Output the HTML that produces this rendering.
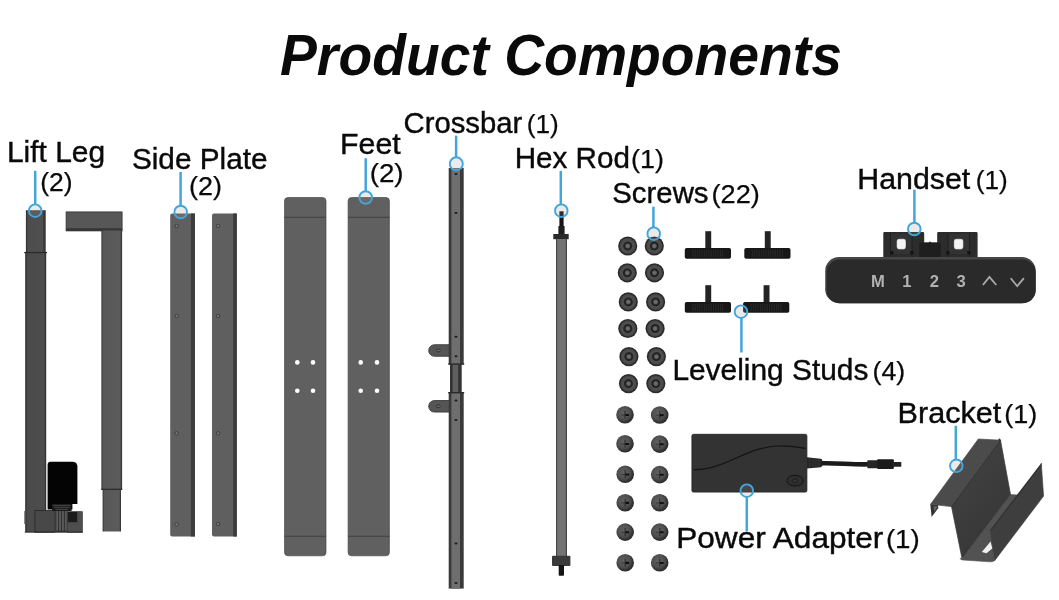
<!DOCTYPE html>
<html>
<head>
<meta charset="utf-8">
<title>Product Components</title>
<style>
  html, body { margin: 0; padding: 0; background: #ffffff; }
  body { width: 1059px; height: 600px; overflow: hidden; font-family: "Liberation Sans", sans-serif; }
  svg { display: block; will-change: transform; }
  text { font-family: "Liberation Sans", sans-serif; fill: #0a0a0a; }
  .lbl { font-size: 29px; stroke: #0a0a0a; stroke-width: 0.4px; }
  .num { font-size: 26.6px; stroke: #0a0a0a; stroke-width: 0.25px; }
  .ptr { stroke: #44a5da; stroke-width: 2.5; fill: none; }
  .ring { stroke: #44a5da; stroke-width: 1.9; fill: rgba(150,150,150,0.20); }
</style>
</head>
<body>
<svg width="1059" height="600" viewBox="0 0 1059 600">
  <defs>
    <radialGradient id="gSock" cx="50%" cy="50%" r="50%">
      <stop offset="0" stop-color="#727272"/>
      <stop offset="0.2" stop-color="#5e5e5e"/>
      <stop offset="0.3" stop-color="#202020"/>
      <stop offset="0.42" stop-color="#262626"/>
      <stop offset="0.52" stop-color="#505050"/>
      <stop offset="0.76" stop-color="#484848"/>
      <stop offset="0.9" stop-color="#262626"/>
      <stop offset="1" stop-color="#3c3c3c"/>
    </radialGradient>
    <radialGradient id="gPh" cx="42%" cy="40%" r="60%">
      <stop offset="0" stop-color="#626262"/>
      <stop offset="0.6" stop-color="#4e4e4e"/>
      <stop offset="0.86" stop-color="#343434"/>
      <stop offset="1" stop-color="#2a2a2a"/>
    </radialGradient>
    <linearGradient id="gLegU" x1="0" x2="1" y1="0" y2="0">
      <stop offset="0" stop-color="#2c2c2c"/><stop offset="0.1" stop-color="#4d4d4d"/><stop offset="0.84" stop-color="#4f4f4f"/><stop offset="0.9" stop-color="#3a3a3a"/><stop offset="1" stop-color="#333"/>
    </linearGradient>
    <linearGradient id="gLegL" x1="0" x2="1" y1="0" y2="0">
      <stop offset="0" stop-color="#262626"/><stop offset="0.1" stop-color="#4a4a4a"/><stop offset="0.9" stop-color="#4d4d4d"/><stop offset="1" stop-color="#282828"/>
    </linearGradient>
    <linearGradient id="gWall" x1="0.2" y1="0" x2="0.8" y2="1">
      <stop offset="0" stop-color="#424242"/><stop offset="1" stop-color="#353535"/>
    </linearGradient>
    <linearGradient id="gLeg2" x1="0" x2="1" y1="0" y2="0">
      <stop offset="0" stop-color="#2e2e2e"/><stop offset="0.09" stop-color="#585858"/><stop offset="0.9" stop-color="#5b5b5b"/><stop offset="1" stop-color="#2e2e2e"/>
    </linearGradient>
    <g id="sock">
      <circle r="9.6" fill="url(#gSock)"/>
    </g>
    <g id="ph">
      <circle r="8.8" fill="url(#gPh)"/>
      <path d="M0 -4V3.800" stroke="#242424" stroke-width="1.1" fill="none" opacity="0.85"/>
      <path d="M-3.800 0.200H0" stroke="#2a2a2a" stroke-width="1" fill="none" opacity="0.7"/>
      <rect x="0.2" y="-0.900" width="3.800" height="2.100" rx="0.6" fill="#101010"/>
    </g>
    <g id="stud">
      <rect x="20.5" y="0" width="5.900" height="17.500" fill="#232323"/>
      <rect x="0" y="16.800" width="46.200" height="10.800" rx="1.800" fill="#171717"/>
      <path d="M8 18.500v7.500M10.300 18.500v7.500M12.600 18.500v7.500M14.900 18.500v7.500M17.200 18.500v7.500M19.500 18.500v7.500M21.800 18.500v7.500M24.100 18.500v7.500M26.400 18.500v7.500M28.700 18.500v7.500M31 18.500v7.500M33.300 18.500v7.500M35.600 18.500v7.500M37.900 18.500v7.500" stroke="#303030" stroke-width="0.800" fill="none"/>
    </g>
  </defs>

  <rect x="0" y="0" width="1059" height="600" fill="#ffffff"/>

  <!-- TITLE -->
  <text id="title" x="280.0" y="74.7" font-size="57.5" font-weight="bold" font-style="italic" textLength="562.0" lengthAdjust="spacingAndGlyphs" fill="#0a0a0a">Product Components</text>

  <!-- LIFT LEG 1 -->
  <g id="leg1">
    <rect x="25.900" y="210.200" width="19.800" height="42.800" fill="url(#gLegU)"/>
    <rect x="25.200" y="252.500" width="21" height="279.700" fill="url(#gLegL)"/>
    <rect x="24.200" y="251.900" width="22.800" height="1.300" fill="#2a2a2a"/>
    <rect x="24.300" y="511" width="1.300" height="13" fill="#555"/>
    <rect x="34.900" y="510.400" width="19.500" height="21.800" fill="#484848" stroke="#262626" stroke-width="0.800"/>
    <rect x="54.400" y="511" width="13.100" height="21.200" fill="#3a3a3a"/>
    <rect x="56.300" y="511" width="10.400" height="19.500" fill="#5a5a5a"/>
    <path d="M58.600 511v20M61.500 511v20M64.400 511v20" stroke="#2a2a2a" stroke-width="0.900"/>
    <rect x="67.500" y="511.700" width="14.800" height="20.500" fill="#4e4e4e" stroke="#2a2a2a" stroke-width="0.700"/>
    <rect x="67.800" y="512" width="9.400" height="10.200" fill="#1c1c1c"/>
    <rect x="24.800" y="531.600" width="58" height="1" fill="#2a2a2a"/>
    <path d="M47.600 464.800q0-3 3-3h22.500l3 1 1.300 2.700v38.400h-5v5.700h-24.800z" fill="#040404"/>
    <rect x="52" y="504.200" width="19.600" height="6.800" fill="#1a1a1a"/>
    <path d="M53 505.300h17.600M54 507.300h15.600M55.500 509.400h12.600" stroke="#5c5c5c" stroke-width="0.700"/>
  </g>
  <!-- LIFT LEG 2 -->
  <g id="leg2">
    <rect x="66.100" y="211.900" width="56" height="19" fill="#575757" stroke="#333" stroke-width="0.800"/>
    <rect x="66.100" y="228.200" width="56" height="2.700" fill="#363636"/>
    <rect x="101.400" y="230.500" width="20.700" height="259" fill="url(#gLeg2)"/>
    <rect x="102.600" y="489.300" width="18.400" height="42.200" fill="url(#gLeg2)"/>
    <rect x="101.200" y="488.700" width="21.100" height="1.300" fill="#2c2c2c"/>
  </g>

  <!-- SIDE PLATES -->
  <g id="plates">
    <path d="M172.200 213.500h22.700v323h-22.700q-2 0-2-2v-319q0-2 2-2z" fill="#5f5f5f"/>
    <rect x="190.900" y="213.500" width="4" height="323" fill="#3c3c3c"/>
    <path d="M214 213.500h22.800v323H214q-2 0-2-2v-319q0-2 2-2z" fill="#5f5f5f"/>
    <rect x="233.200" y="213.500" width="3.600" height="323" fill="#3c3c3c"/>
    <g fill="#7a7a7a" stroke="#383838" stroke-width="0.9">
      <circle cx="176.6" cy="226" r="1.7"/><circle cx="176.6" cy="316" r="1.7"/><circle cx="176.6" cy="433.3" r="1.7"/><circle cx="176.6" cy="524.500" r="1.7"/>
      <circle cx="218.2" cy="226" r="1.7"/><circle cx="218.2" cy="316" r="1.7"/><circle cx="218.2" cy="433.3" r="1.7"/><circle cx="218.2" cy="524" r="1.7"/>
    </g>
  </g>

  <!-- FEET -->
  <g id="feet">
    <rect x="284.500" y="197.500" width="41.500" height="358.300" rx="3.500" fill="#606060" stroke="#4a4a4a" stroke-width="0.700"/>
    <rect x="348.100" y="197.500" width="41.300" height="358.300" rx="3.500" fill="#606060" stroke="#4a4a4a" stroke-width="0.700"/>
    <g stroke="#404040" stroke-width="1.100">
      <path d="M284.500 217.300h41.500M284.500 536.200h41.500M348 217.300h41.500M348 536.200h41.500"/>
    </g>
    <g fill="#fff">
      <circle cx="297.3" cy="362.4" r="2.3"/><circle cx="313" cy="362.4" r="2.3"/>
      <circle cx="297.3" cy="390.7" r="2.3"/><circle cx="313" cy="390.7" r="2.3"/>
      <circle cx="360.7" cy="362.4" r="2.3"/><circle cx="377" cy="362.4" r="2.3"/>
      <circle cx="360.7" cy="390.7" r="2.3"/><circle cx="377" cy="390.7" r="2.3"/>
    </g>
  </g>

  <!-- CROSSBAR -->
  <g id="crossbar">
    <path d="M434.5 344.7h15v11.6h-15a5.8 5.8 0 0 1 0-11.6z" fill="#555" stroke="#303030" stroke-width="0.8"/>
    <path d="M434.5 400.5h15v11.6h-15a5.8 5.8 0 0 1 0-11.6z" fill="#555" stroke="#303030" stroke-width="0.8"/>
    <ellipse cx="438.3" cy="350.5" rx="2" ry="1.3" fill="#777" stroke="#222" stroke-width="0.8"/>
    <ellipse cx="438.3" cy="406.3" rx="2" ry="1.3" fill="#777" stroke="#222" stroke-width="0.8"/>
    <rect x="448.7" y="168" width="15" height="196.2" fill="#3a3a3a"/>
    <rect x="451.4" y="168" width="8.6" height="196.2" fill="#6e6e6e"/>
    <rect x="450" y="364.2" width="11.7" height="28.5" fill="#333"/>
    <rect x="452.600" y="364.200" width="5.600" height="28.500" fill="#606060"/>
    <rect x="448.7" y="392.5" width="15" height="196.1" fill="#3a3a3a"/>
    <rect x="451.4" y="392.5" width="8.6" height="196.1" fill="#6e6e6e"/>
    <rect x="448.2" y="363.4" width="16" height="1.4" fill="#2a2a2a"/>
    <rect x="448.2" y="392" width="16" height="1.4" fill="#2a2a2a"/>
    <g fill="#1e1e1e">
      <ellipse cx="456" cy="174" rx="1.6" ry="1"/><ellipse cx="456" cy="213" rx="1.6" ry="1"/>
      <ellipse cx="456" cy="336.7" rx="1.6" ry="1"/><ellipse cx="456" cy="356.3" rx="1.6" ry="1"/>
      <ellipse cx="456" cy="400.5" rx="1.6" ry="1"/><ellipse cx="456" cy="420" rx="1.6" ry="1"/>
      <ellipse cx="456" cy="543.5" rx="1.6" ry="1"/><ellipse cx="456" cy="583" rx="1.6" ry="1"/>
    </g>
  </g>

  <!-- HEX ROD -->
  <g id="hexrod">
    <rect x="559.4" y="211.3" width="4.2" height="23" fill="#151515"/>
    <rect x="558.4" y="226" width="6.2" height="8.5" fill="#1e1e1e"/>
    <rect x="553.3" y="234" width="15.4" height="5.2" fill="#2a2a2a"/>
    <rect x="556" y="239" width="11" height="317" fill="#444"/>
    <rect x="557.100" y="239" width="8.700" height="317" fill="#737373"/>
    <rect x="552" y="555.7" width="18.4" height="10.3" rx="1" fill="#3a3a3a"/>
    <rect x="558.7" y="565" width="5.3" height="10.7" rx="0.8" fill="#141414"/>
  </g>

  <!-- SOCKET SCREWS -->
  <g id="socks">
    <use href="#sock" x="627.7" y="246.0"/>
    <use href="#sock" x="654.3" y="246.0"/>
    <use href="#sock" x="627.3" y="272.8"/>
    <use href="#sock" x="654.5" y="272.8"/>
    <use href="#sock" x="628.3" y="301.9"/>
    <use href="#sock" x="655.6" y="301.9"/>
    <use href="#sock" x="627.8" y="328.5"/>
    <use href="#sock" x="655.1" y="328.5"/>
    <use href="#sock" x="628.9" y="356.6"/>
    <use href="#sock" x="656.4" y="356.6"/>
    <use href="#sock" x="628.5" y="383.6"/>
    <use href="#sock" x="655.8" y="383.6"/>
  </g>
  <!-- PHILLIPS SCREWS -->
  <g id="phs">
    <use href="#ph" x="625.0" y="414.8"/>
    <use href="#ph" x="659.7" y="415.0"/>
    <use href="#ph" x="625.0" y="443.8"/>
    <use href="#ph" x="659.7" y="444.1"/>
    <use href="#ph" x="625.2" y="474.3"/>
    <use href="#ph" x="659.7" y="474.6"/>
    <use href="#ph" x="625.2" y="502.7"/>
    <use href="#ph" x="659.7" y="502.8"/>
    <use href="#ph" x="625.2" y="532.1"/>
    <use href="#ph" x="659.7" y="532.1"/>
    <use href="#ph" x="625.2" y="562.7"/>
    <use href="#ph" x="659.7" y="562.8"/>
  </g>

  <!-- LEVELING STUDS -->
  <g id="studs">
    <use href="#stud" x="684.8" y="231.2"/>
    <use href="#stud" x="744.3" y="231.2"/>
    <use href="#stud" x="684.8" y="285.2"/>
    <use href="#stud" x="743.1" y="285.2"/>
  </g>

  <!-- HANDSET -->
  <g id="handset">
    <path d="M884.500 232h38.500q1.200 0 1.200 1.200v9.400h13v-9.400q0-1.200 1.200-1.200h38q1.200 0 1.200 1.200V259H883.300v-25.800q0-1.200 1.200-1.200z" fill="#2c2c2c"/>
    <rect x="890.500" y="234" width="21.500" height="20" fill="#333"/>
    <rect x="948" y="234" width="21.500" height="20" fill="#333"/>
    <path d="M890.500 233v24M912 233v24M948 233v24M969.500 233v24" stroke="#1c1c1c" stroke-width="0.800" fill="none"/>
    <rect x="919.200" y="242.600" width="21.600" height="15" fill="#1e1e1e"/>
    <rect x="929" y="241.800" width="2" height="1.200" fill="#1e1e1e"/>
    <rect x="896.600" y="238.800" width="9.400" height="10.600" rx="2.400" fill="#f4f4f4" stroke="#1a1a1a" stroke-width="0.400"/>
    <rect x="953.800" y="238.800" width="9.600" height="10.600" rx="2.400" fill="#f4f4f4" stroke="#1a1a1a" stroke-width="0.400"/>
    <g fill="#141414">
      <rect x="890.300" y="251" width="3.200" height="3.400"/><rect x="910.300" y="251" width="3.200" height="3.400"/>
      <rect x="946.300" y="251" width="3.200" height="3.400"/><rect x="967.300" y="251" width="3.200" height="3.400"/>
    </g>
    <rect x="825.200" y="257" width="210.500" height="46.200" rx="14" fill="#464646"/>
    <rect x="826.600" y="259.600" width="209.100" height="43.600" rx="13" fill="#2a2a2a"/>
    <g font-weight="bold" font-size="16.600" text-anchor="middle">
      <text x="878" y="287.200" style="fill:#b2b2b2">M</text>
      <text x="906.800" y="287.200" style="fill:#b2b2b2">1</text>
      <text x="934.400" y="287.200" style="fill:#b2b2b2">2</text>
      <text x="961.200" y="287.200" style="fill:#b2b2b2">3</text>
    </g>
    <path d="M982.900 285L989.400 277l6.900 8M1010.700 278.200l6.500 8 6.700-8" stroke="#ababab" stroke-width="1.800" fill="none"/>
  </g>

  <!-- POWER ADAPTER -->
  <g id="adapter">
    <rect x="691.900" y="434.300" width="115" height="57.800" rx="1.600" fill="#333" stroke="#222" stroke-width="0.800"/>
    <path d="M693.600 469.600c30 1 52-22.500 84-23.600 12-.4 20 1.200 27.500 2.500" stroke="#141414" stroke-width="1.200" fill="none"/>
    <ellipse cx="795.100" cy="480.700" rx="8.200" ry="5.400" fill="#2e2e2e" stroke="#141414" stroke-width="1"/>
    <ellipse cx="795.100" cy="480.700" rx="2.200" ry="1.800" fill="#3a3a3a" stroke="#141414" stroke-width="0.800"/>
    <path d="M806.900 457.200l13.800 1.500q1.600 .3 1.600 1.800v5q0 1.400-1.600 1.700l-13.800 1.200z" fill="#262626"/>
    <path d="M810 458v10M813 458.300v9.600M816 458.600v9M819 459v8.200" stroke="#3c3c3c" stroke-width="0.800" fill="none"/>
    <path d="M821.500 463.300c14-.6 30 1.400 46.500 1" stroke="#1a1a1a" stroke-width="4.600" fill="none"/>
    <rect x="867.300" y="460.300" width="10.200" height="7.900" rx="0.800" fill="#252525"/>
    <rect x="877" y="459.200" width="16.900" height="9.800" rx="1.200" fill="#1b1b1b"/>
    <rect x="893.500" y="462" width="7.800" height="4.800" rx="0.600" fill="#222"/>
  </g>

  <!-- BRACKET -->
  <g id="bracket">
    <!-- floor -->
    <path d="M962 558.400L1010.500 494.500l7.500 .5-28 35.400 4.600 30.300q-2 1.400-5 1.100l-27-1.800q-2.200-.5-2.600-1.600z" fill="#525252" stroke="#525252" stroke-width="0.600"/>
    <!-- right (front) wall -->
    <path d="M990 530.400L1040.100 465.100l1.200-1.800 2.300 32.800L994.600 560.700z" fill="#3e3e3e" stroke="#3e3e3e" stroke-width="0.600" stroke-linejoin="round"/>
    <path d="M990.600 530.600L1040.600 465.400" stroke="#2c2c2c" stroke-width="1" fill="none"/>
    <path d="M1040.100 465.100l1.400-2.100 .700 3.300z" fill="#555"/>
    <!-- main wall -->
    <path d="M951.500 506.600L1000.500 440.200l10 54.300L962 558.400z" fill="url(#gWall)" stroke="#3b3b3b" stroke-width="0.700" stroke-linejoin="round"/>
    <!-- top flange -->
    <path d="M978.300 439l22.200 1.200L951.500 506.600l-21-2.300z" fill="#4b4b4b" stroke="#4b4b4b" stroke-width="0.700" stroke-linejoin="round"/>
    <path d="M999.300 438.200l1.800 2-1.200 1.600-1.800-1.700z" fill="#343434"/>
    <path d="M1000.300 440.600L951.600 506.600" stroke="#2f2f2f" stroke-width="0.900" fill="none"/>
    <!-- flange lip -->
    <path d="M930.300 504.300l1.300 12.600 6.800-8.800-.6-3z" fill="#333"/>
    <path d="M933.500 506.200l.6 5.400 3.200-4.200-.3-.9z" fill="#666"/>
    <!-- cutout -->
    <path d="M981.800 552.100l8.800-10.500 1.700 7-5.800 4.700z" fill="#f2f2f2"/>
  </g>

  <!-- POINTERS -->
  <g id="ptrs">
    <path class="ptr" d="M35.200 170.800V204.400"/><circle class="ring" cx="35.200" cy="210.700" r="6.300"/>
    <path class="ptr" d="M180.600 172V205.600"/><circle class="ring" cx="180.700" cy="212" r="6.300"/>
    <path class="ptr" d="M365.700 158.200V191.200"/><circle class="ring" cx="365.700" cy="197.500" r="6.300"/>
    <path class="ptr" d="M456.100 135.700V157.500"/><circle class="ring" cx="456.300" cy="163.800" r="6.500"/>
    <path class="ptr" d="M560.800 170.900V204.400"/><circle class="ring" cx="561.300" cy="210.700" r="6.300"/>
    <path class="ptr" d="M653.400 206.700V227.400"/><circle class="ring" cx="653.700" cy="233.700" r="6.300"/>
    <path class="ptr" d="M914.400 189.700V222.700"/><circle class="ring" cx="914.300" cy="229" r="6.300"/>
    <path class="ptr" d="M741.400 352.500V318"/><circle class="ring" cx="741" cy="311.700" r="6.300"/>
    <path class="ptr" d="M746.800 531.300V497"/><circle class="ring" cx="746.800" cy="490.700" r="6.300"/>
    <path class="ptr" d="M955.800 425.800V459.500"/><circle class="ring" cx="956.300" cy="465.800" r="6.300"/>
  </g>

  <!-- LABELS -->
  <g id="labels">
    <text class="lbl" x="6.9" y="161.800" textLength="98.2" lengthAdjust="spacingAndGlyphs">Lift Leg</text>
    <text class="num" x="40.2" y="191.400" textLength="32.4" lengthAdjust="spacingAndGlyphs">(2)</text>

    <text class="lbl" x="131.9" y="169.400" textLength="135.6" lengthAdjust="spacingAndGlyphs">Side Plate</text>
    <text class="num" x="189.0" y="195.400" textLength="33.0" lengthAdjust="spacingAndGlyphs">(2)</text>

    <text class="lbl" x="340.1" y="153.700" textLength="60.6" lengthAdjust="spacingAndGlyphs">Feet</text>
    <text class="num" x="369.7" y="182" textLength="33.9" lengthAdjust="spacingAndGlyphs">(2)</text>

    <text class="lbl" x="403.6" y="132.500" textLength="118.7" lengthAdjust="spacingAndGlyphs">Crossbar</text>
    <text class="num" x="526.7" y="132.500" textLength="32.0" lengthAdjust="spacingAndGlyphs">(1)</text>

    <text class="lbl" x="514.7" y="167.800" textLength="115.2" lengthAdjust="spacingAndGlyphs">Hex Rod</text>
    <text class="num" x="631.1" y="167.800" textLength="32.9" lengthAdjust="spacingAndGlyphs">(1)</text>

    <text class="lbl" x="612.3" y="203.200" textLength="96.2" lengthAdjust="spacingAndGlyphs">Screws</text>
    <text class="num" x="711.5" y="203.200" textLength="48.3" lengthAdjust="spacingAndGlyphs">(22)</text>

    <text class="lbl" x="857.3" y="188.900" textLength="113.0" lengthAdjust="spacingAndGlyphs">Handset</text>
    <text class="num" x="975.7" y="188.900" textLength="32.0" lengthAdjust="spacingAndGlyphs">(1)</text>

    <text class="lbl" x="672.4" y="380.200" textLength="196.0" lengthAdjust="spacingAndGlyphs">Leveling Studs</text>
    <text class="num" x="872.5" y="380.200" textLength="32.7" lengthAdjust="spacingAndGlyphs">(4)</text>

    <text class="lbl" x="897.6" y="422.800" textLength="103.8" lengthAdjust="spacingAndGlyphs">Bracket</text>
    <text class="num" x="1004.2" y="422.800" textLength="33.0" lengthAdjust="spacingAndGlyphs">(1)</text>

    <text class="lbl" x="676.2" y="548.300" textLength="207.2" lengthAdjust="spacingAndGlyphs">Power Adapter</text>
    <text class="num" x="885.9" y="548.300" textLength="33.9" lengthAdjust="spacingAndGlyphs">(1)</text>
  </g>
</svg>
</body>
</html>
